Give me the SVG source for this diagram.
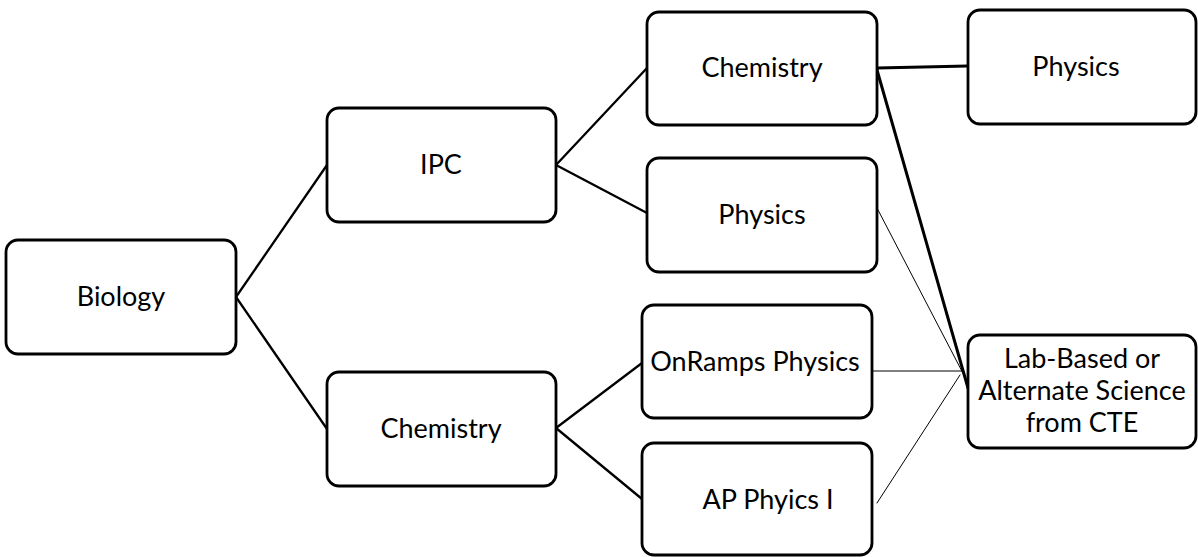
<svg xmlns="http://www.w3.org/2000/svg" width="1198" height="557" viewBox="0 0 1198 557">
<style>
.box{fill:#fff;stroke:#000;stroke-width:2.8}
.t{font-family:Lato,"Open Sans",sans-serif;font-size:27px;fill:#000;text-anchor:middle}
.c{stroke:#000;fill:none;stroke-linecap:round}
.n{stroke-width:2.3}
.k{stroke-width:3}
.h{stroke-width:1}
</style>
<rect width="1198" height="557" fill="#fff"/>
<g id="connectors">
<line class="c n" x1="236" y1="297" x2="327" y2="165"/>
<line class="c n" x1="236" y1="297" x2="327" y2="429"/>
<line class="c n" x1="556" y1="165" x2="647" y2="68"/>
<line class="c n" x1="556" y1="165" x2="647" y2="213"/>
<line class="c n" x1="556" y1="428" x2="642" y2="363"/>
<line class="c n" x1="556" y1="428" x2="642" y2="499"/>
<line class="c k" x1="877" y1="68" x2="968" y2="66"/>
<line class="c k" x1="877" y1="70" x2="968" y2="388"/>
<line class="c h" x1="877" y1="208" x2="966" y2="379"/>
<line class="c h" x1="867" y1="371" x2="962" y2="371"/>
<line class="c h" x1="877" y1="503" x2="960" y2="375"/>
</g>
<g id="biology"><rect class="box" x="6" y="240" width="230" height="114" rx="12"/><text class="t" x="121" y="306">Biology</text></g>
<g id="ipc"><rect class="box" x="327" y="108" width="229" height="114" rx="12"/><text class="t" x="441" y="174">IPC</text></g>
<g id="chem1"><rect class="box" x="647" y="12" width="230" height="113" rx="12"/><text class="t" x="762" y="77">Chemistry</text></g>
<g id="phys1"><rect class="box" x="647" y="158" width="230" height="114" rx="12"/><text class="t" x="762" y="224">Physics</text></g>
<g id="chem2"><rect class="box" x="327" y="372" width="229" height="114" rx="12"/><text class="t" x="441" y="438">Chemistry</text></g>
<g id="onramps"><rect class="box" x="642" y="305" width="230" height="113" rx="12"/><text class="t" x="755" y="371">OnRamps Physics</text></g>
<g id="ap"><rect class="box" x="642" y="443" width="230" height="112" rx="12"/><text class="t" x="768" y="509">AP Phyics I</text></g>
<g id="phys2"><rect class="box" x="968" y="10" width="228" height="114" rx="12"/><text class="t" x="1076" y="76">Physics</text></g>
<g id="lab"><rect class="box" x="968" y="335" width="228" height="113" rx="12"/><text class="t" x="1082" y="368">Lab-Based or</text><text class="t" x="1082" y="400">Alternate Science</text><text class="t" x="1082" y="432">from CTE</text></g>
</svg>
